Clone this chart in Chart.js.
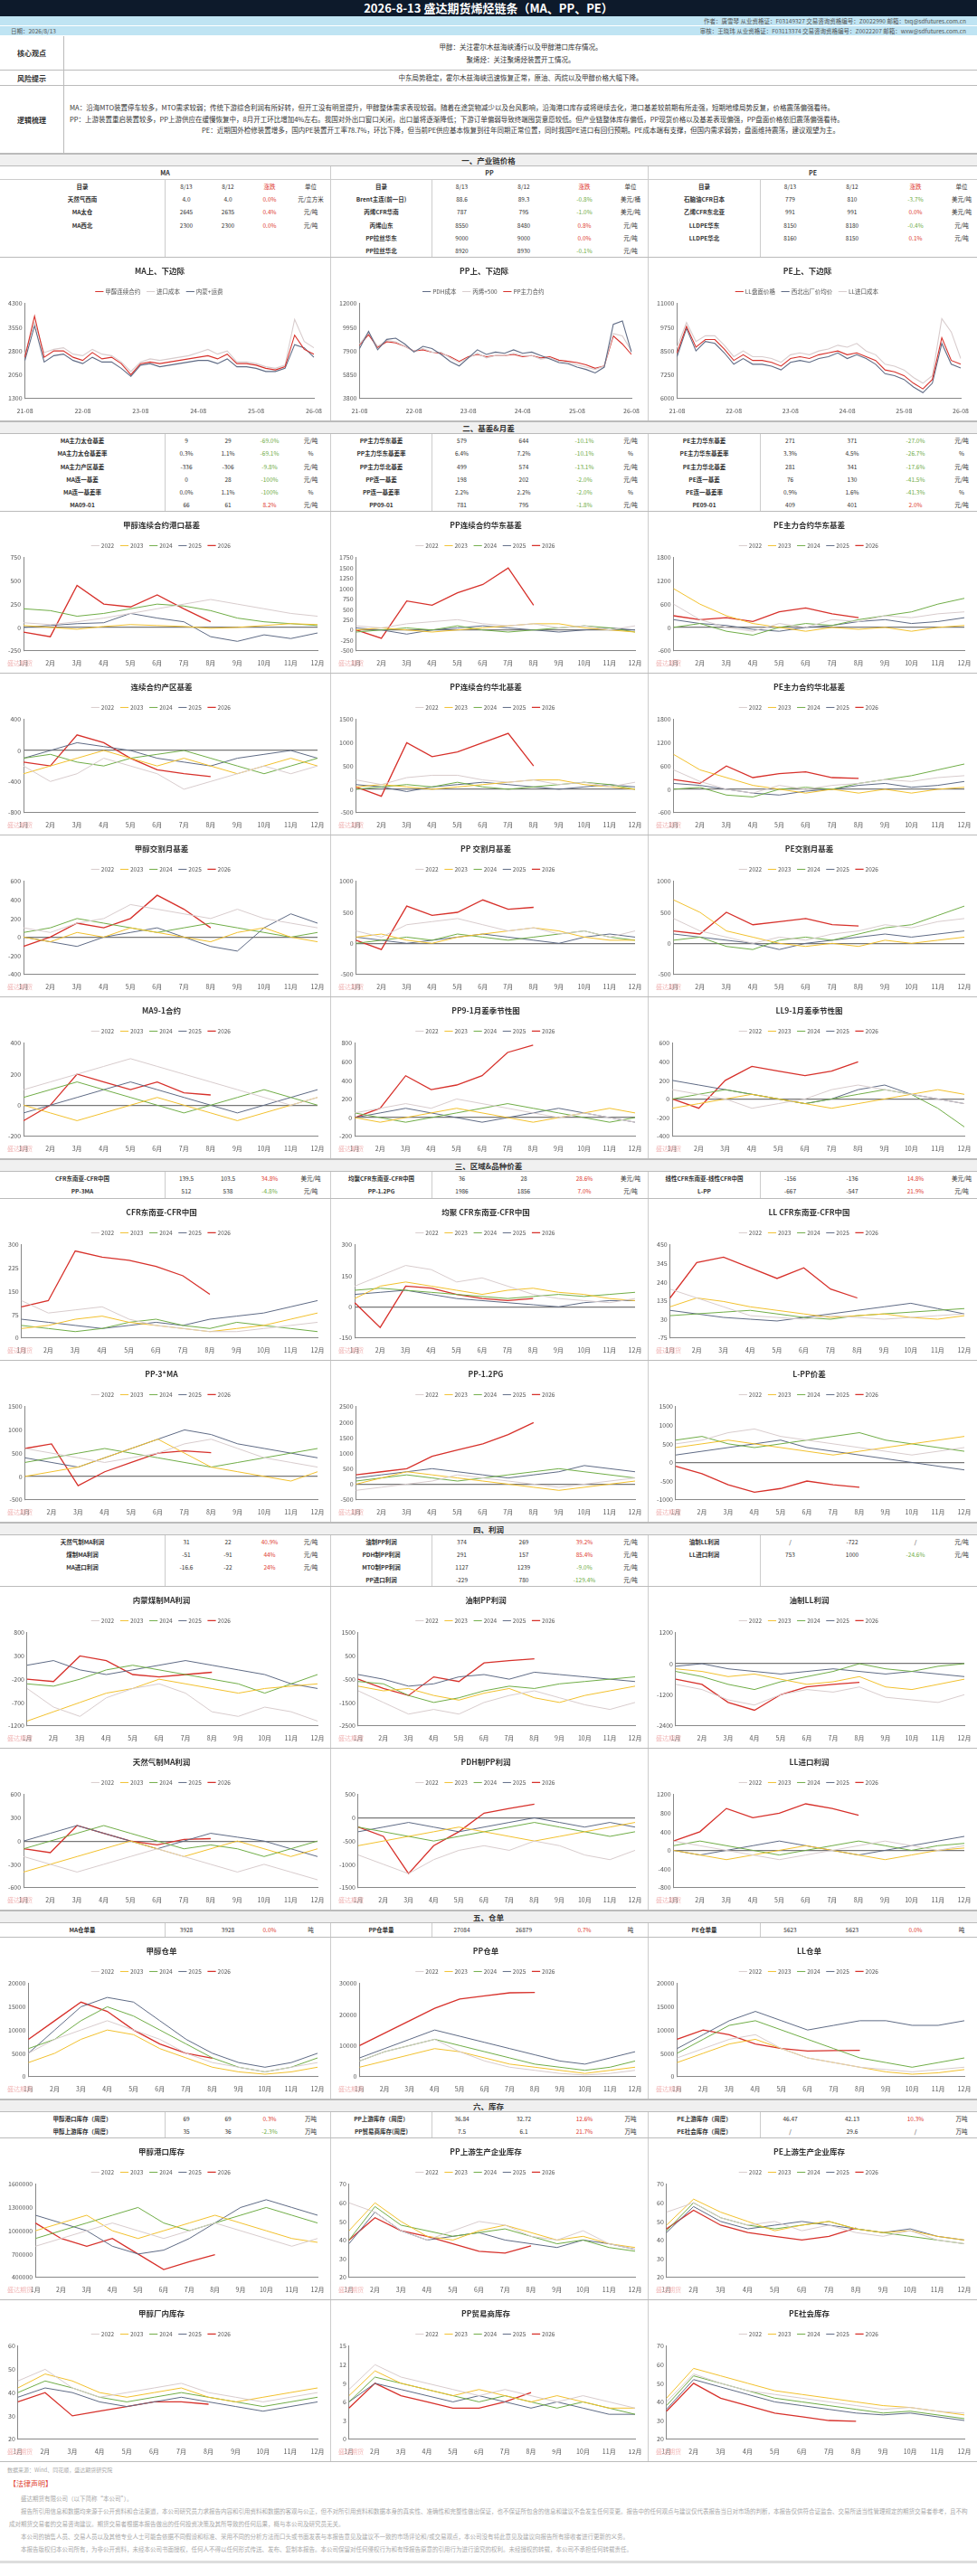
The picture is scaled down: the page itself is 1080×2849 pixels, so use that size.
<!DOCTYPE html>
<html>
<head>
<meta charset="utf-8">
<script src="https://cdn.jsdelivr.net/npm/chart.js@4.4.1/dist/chart.umd.min.js"></script>
<style>
  * { box-sizing: border-box; }
  body { margin: 0; width: 1080px; background: #fff; font-family: "Noto Sans CJK SC", "Noto Sans", sans-serif; color: #333; }
  .hdr { height: 18px; background: #0d1a2b; color: #fff; font-weight: bold; font-size: 13px; text-align: center; line-height: 18px; }
  .info { height: 10px; background: #bfe4f3; font-size: 6.5px; line-height: 10px; color: #555; padding: 0 12px; margin-bottom: 1px; display: flex; justify-content: space-between; }
  .blk { display: flex; border-bottom: 1px solid #bbb; font-size: 7.5px; }
  .blk .lab { width: 71px; border-right: 1px solid #bbb; display: flex; align-items: center; justify-content: center; font-weight: bold; font-size: 8px; }
  .blk .txt { flex: 1; display: flex; flex-direction: column; justify-content: center; padding: 2px 6px; line-height: 14px; }
  .sec { height: 14px; background: #f0f0f0; border-top: 1px solid #bbb; border-bottom: 1px solid #bbb; text-align: center; font-weight: bold; font-size: 8.5px; line-height: 13px; }
  .tbl { display: flex; border-bottom: 1px solid #bbb; }
  .tb { display: grid; font-size: 6.5px; }
  .tb > div { height: 14.2px; line-height: 14.2px; text-align: center; white-space: nowrap; }
  .tb .l { border-right: 1px solid #ccc; font-weight: bold; }
  .up { color: #e03c31; } .dn { color: #70ad47; }
  .crow { display: flex; border-bottom: 1px solid #bbb; }
  .cell { position: relative; border-right: 1px solid #ccc; }
  .cell:last-child { border-right: none; }
  .wm { position: absolute; left: 8px; bottom: 6px; font-size: 7px; color: #f1b7b7; }
  .foot { font-size: 6px; color: #aaa; padding: 4px 8px; }
  .legal { font-size: 6.5px; color: #aaa; padding: 0 10px 6px; line-height: 14px; border-bottom: 3px solid #ddd; }
  .legal p { margin: 0; text-indent: 2em; }
</style>
</head>
<body>
<div class="hdr">2026-8-13 盛达期货烯烃链条（MA、PP、PE）</div>
<div class="info"><span></span><span>作者：唐雪琴 从业资格证：F03149327 交易咨询资格编号：Z0022990 邮箱：txq@sdfutures.com.cn</span></div>
<div class="info"><span>日期：2026/8/13</span><span>审核：王晓玮 从业资格证：F03113374 交易咨询资格编号：Z0022207 邮箱：wxw@sdfutures.com.cn</span></div>
<div class="blk" style="height:38px"><div class="lab">核心观点</div><div class="txt" style="text-align:center">甲醇：关注霍尔木兹海峡通行以及甲醇港口库存情况。<br>聚烯烃：关注聚烯烃装置开工情况。</div></div>
<div class="blk" style="height:17px"><div class="lab">风险提示</div><div class="txt" style="text-align:center">中东局势稳定，霍尔木兹海峡迅速恢复正常，原油、丙烷以及甲醇价格大幅下降。</div></div>
<div class="blk" style="height:75px"><div class="lab">逻辑梳理</div><div class="txt" style="line-height:12.5px">
<div>MA：沿海MTO装置停车较多，MTO需求较弱；传统下游综合利润有所好转，但开工没有明显提升，甲醇整体需求表现较弱。随着在途货物减少以及台风影响，沿海港口库存或将继续去化，港口基差较前期有所走强，短期地缘局势反复，价格震荡偏强看待。</div>
<div>PP：上游装置重启装置较多，PP上游供应在缓慢恢复中，8月开工环比增加4%左右。我国对外出口窗口关闭，出口量将逐渐降低；下游订单偏弱导致终端囤货意愿较低。但产业链整体库存偏低，PP现货价格以及基差表现偏强，PP盘面价格依旧震荡偏强看待。</div>
<div style="text-align:center">PE：近期国外检修装置增多，国内PE装置开工率78.7%，环比下降，但当前PE供应基本恢复到往年同期正常位置，同时我国PE进口有回归预期。PE成本端有支撑，但国内需求弱势，盘面维持震荡，建议观望为主。</div>
</div></div>

<div class="sec">一、产业链价格</div>
<div id="t1" class="tbl"></div>
<div class="crow" style="height:181px"><div class="cell" style="width:366px"><canvas id="h1"></canvas></div><div class="cell" style="width:351px"><canvas id="h2"></canvas></div><div class="cell" style="width:363px"><canvas id="h3"></canvas></div></div>

<div class="sec">二、基差&amp;月差</div>
<div id="t2" class="tbl"></div>
<div id="r2"></div>
<div class="sec">三、区域&amp;品种价差</div>
<div id="t3" class="tbl"></div>
<div id="r3"></div>
<div class="sec">四、利润</div>
<div id="t4" class="tbl"></div>
<div id="r4"></div>
<div class="sec">五、仓单</div>
<div id="t5" class="tbl"></div>
<div id="r5"></div>
<div class="sec">六、库存</div>
<div id="t6" class="tbl"></div>
<div id="r6"></div>
<div class="foot">数据来源：Wind、同花顺，盛达期货研究院</div>
<div class="legal">
<div style="color:#e03c31;font-size:8px;margin-bottom:2px">【法律声明】</div>
<p>盛达期货有限公司（以下简称“本公司”）。</p>
<p>报告所引用信息和数据均来源于公开资料和合法渠道，本公司研究员力求报告内容和引用资料和数据的客观与公正，但不对所引用资料和数据本身的真实性、准确性和完整性做出保证，也不保证所包含的信息和建议不会发生任何变更。报告中的任何观点与建议仅代表报告当日对市场的判断，本报告仅供符合证监会、交易所适当性管理规定的期货交易者参考，且不构成对期货交易者的交易咨询建议。期货交易者根据本报告做出的任何投资决策及其所导致的任何后果，概与本公司及研究员无关。</p>
<p>本公司的销售人员、交易人员以及其他专业人士可能会依据不同假设和标准、采用不同的分析方法而口头或书面发表与本报告意见及建议不一致的市场评论和/或交易观点，本公司没有将此意见及建议向报告所有接收者进行更新的义务。</p>
<p>本报告版权归本公司所有，为非公开资料，未经本公司书面授权，任何人不得以任何形式传送、发布、复制本报告。本公司保留对任何侵权行为和有悖报告原意的引用行为进行追究的权利。未经授权的转载，本公司不承担任何转载责任。</p>
</div>

<script>
// ---------- table rows (label, 8/13, 8/12, change, unit) ----------
const t1Ma = [['天然气西南','4.0','4.0','0.0%','元/立方米'],['MA太仓','2645','2635','0.4%','元/吨'],['MA西北','2300','2300','0.0%','元/吨'],['','','','',''],['','','','','']];
const t1Pp = [['Brent主连(前一日)','88.6','89.3','-0.8%','美元/桶'],['丙烯CFR华南','787','795','-1.0%','美元/吨'],['丙烯山东','8550','8480','0.8%','元/吨'],['PP拉丝华东','9000','9000','0.0%','元/吨'],['PP拉丝华北','8920','8930','-0.1%','元/吨']];
const t1Pe = [['石脑油CFR日本','779','810','-3.7%','美元/吨'],['乙烯CFR东北亚','991','991','0.0%','美元/吨'],['LLDPE华东','8150','8180','-0.4%','元/吨'],['LLDPE华北','8160','8150','0.1%','元/吨'],['','','','','']];
const t2Ma = [['MA主力太仓基差','9','29','-69.0%','元/吨'],['MA主力太仓基差率','0.3%','1.1%','-69.1%','%'],['MA主力产区基差','-336','-306','-9.8%','元/吨'],['MA连一基差','0','28','-100%','元/吨'],['MA连一基差率','0.0%','1.1%','-100%','%'],['MA09-01','66','61','8.2%','元/吨']];
const t2Pp = [['PP主力华东基差','579','644','-10.1%','元/吨'],['PP主力华东基差率','6.4%','7.2%','-10.1%','%'],['PP主力华北基差','499','574','-13.1%','元/吨'],['PP连一基差','198','202','-2.0%','元/吨'],['PP连一基差率','2.2%','2.2%','-2.0%','%'],['PP09-01','781','795','-1.8%','元/吨']];
const t2Pe = [['PE主力华东基差','271','371','-27.0%','元/吨'],['PE主力华东基差率','3.3%','4.5%','-26.7%','%'],['PE主力华北基差','281','341','-17.6%','元/吨'],['PE连一基差','76','130','-41.5%','元/吨'],['PE连一基差率','0.9%','1.6%','-41.3%','%'],['PE09-01','409','401','2.0%','元/吨']];
const t3Ma = [['CFR东南亚-CFR中国','139.5','103.5','34.8%','美元/吨'],['PP-3MA','512','538','-4.8%','元/吨']];
const t3Pp = [['均聚CFR东南亚-CFR中国','36','28','28.6%','美元/吨'],['PP-1.2PG','1986','1856','7.0%','元/吨']];
const t3Pe = [['线性CFR东南亚-线性CFR中国','-156','-136','14.8%','美元/吨'],['L-PP','-667','-547','21.9%','元/吨']];
const t4Ma = [['天然气制MA利润','31','22','40.9%','元/吨'],['煤制MA利润','-51','-91','44%','元/吨'],['MA进口利润','-16.6','-22','24%','元/吨'],['','','','','']];
const t4Pp = [['油制PP利润','374','269','39.2%','元/吨'],['PDH制PP利润','291','157','85.4%','元/吨'],['MTO制PP利润','1127','1239','-9.0%','元/吨'],['PP进口利润','-229','780','-129.4%','元/吨']];
const t4Pe = [['油制LL利润','/','-722','/','元/吨'],['LL进口利润','753','1000','-24.6%','元/吨'],['','','','',''],['','','','','']];
const t5Ma = [['MA仓单量','3928','3928','0.0%','吨']];
const t5Pp = [['PP仓单量','27084','26879','0.7%','吨']];
const t5Pe = [['PE仓单量','5623','5623','0.0%','吨']];
const t6Ma = [['甲醇港口库存（周度）','69','69','0.3%','万吨'],['甲醇上游库存（周度）','35','36','-2.3%','万吨']];
const t6Pp = [['PP上游库存（周度）','36.84','32.72','12.6%','万吨'],['PP贸易商库存(周度)','7.5','6.1','21.7%','万吨']];
const t6Pe = [['PE上游库存（周度）','46.47','42.13','10.3%','万吨'],['PE社会库存（周度）','/','29.6','/','万吨']];

// ---------- history charts (section 1) ----------
const histLabels = ['21-08','21-10','21-12','22-02','22-04','22-06','22-08','22-10','22-12','23-02','23-04','23-06','23-08','23-10','23-12','24-02','24-04','24-06','24-08','24-10','24-12','25-02','25-04','25-06','25-08','25-10','25-12','26-02','26-04','26-06','26-08'];
const maFut = [2600,3900,2600,2800,2800,2600,2500,2750,2550,2600,2400,2050,2400,2450,2400,2450,2500,2550,2600,2650,2550,2700,2400,2400,2350,2250,2200,2300,3300,2850,2700];
const maImport = [2700,3700,2750,2850,2900,2700,2650,2850,2700,2650,2450,2150,2450,2550,2500,2550,2600,2650,2750,2850,2700,2800,2450,2450,2400,2300,2250,2350,3800,3100,2900];
const maInland = [2500,3600,2450,2650,2700,2500,2400,2600,2450,2450,2250,2000,2350,2400,2300,2350,2400,2450,2500,2500,2400,2550,2300,2300,2250,2150,2150,2250,3000,2900,2600];
const ppPdh = [8100,9600,8000,8900,9000,8500,7800,8300,8100,7600,7000,6600,7300,8000,7600,7800,7700,8000,7700,7800,7500,7200,6900,6800,6500,6300,6000,6500,10200,10500,7800];
const ppPropylene = [8500,9500,8300,8800,8700,8300,7900,8100,7800,7800,7300,6900,7300,7700,7300,7500,7500,7700,7500,7500,7200,7300,7000,6900,6700,6500,6300,6600,9400,9200,7900];
const ppFut = [8400,9300,8200,8700,8600,8300,7900,8000,7800,7700,7400,7000,7400,7600,7400,7500,7500,7600,7400,7500,7300,7400,7100,7000,6900,6700,6400,6600,9200,8500,7600];
const llFut = [8400,9800,8700,9100,9100,8600,8000,8300,8000,8000,7900,7700,8100,8200,8100,8300,8400,8500,8300,8400,8200,8000,7500,7400,7200,6800,6500,7000,9200,8000,7800];
const llNorthwest = [8200,9700,8500,9000,8900,8400,7800,8100,7800,7800,7700,7500,7900,8000,7900,8100,8200,8400,8100,8300,8100,7800,7300,7200,7000,6600,6300,6800,8900,7800,7600];
const llImport = [8700,10000,9000,9300,9300,8800,8200,8500,8200,8200,8100,7900,8300,8400,8300,8500,8600,8800,8700,8900,8500,8300,7800,7700,7500,7100,6800,7200,10200,9500,8100];

// ---------- seasonal charts: rows are 2022..2026 ----------
const months = ['1月','2月','3月','4月','5月','6月','7月','8月','9月','10月','11月','12月'];
const years = ['2022','2023','2024','2025','2026'];
const maPortBasis = [[50,30,60,100,150,200,250,300,250,200,150,120],[20,0,-20,10,30,20,10,-10,0,20,40,30],[200,180,120,150,200,250,230,180,100,60,40,20],[0,20,40,50,150,100,60,-100,-150,-80,-120,-60],[-50,-100,450,250,220,350,200,60]];
const ppEastBasis = [[100,50,150,200,250,150,100,150,50,100,0,100],[0,50,0,-50,0,50,100,150,150,50,0,-50],[-50,0,50,0,100,0,-50,0,50,100,50,-50],[50,0,-100,0,50,100,50,0,-50,0,50,0],[0,-200,700,600,900,1100,1500,600]];
const peEastBasis = [[600,200,0,-100,100,0,200,150,300,250,350,400],[1000,600,300,100,0,-100,0,-50,0,-100,0,50],[0,100,-100,-200,0,100,50,200,300,400,600,750],[200,100,50,-50,-100,0,50,150,200,100,150,250],[300,200,250,150,400,500,350,250]];
const maAreaBasis = [[-200,-400,-300,-100,-200,-300,-500,-400,-300,-200,-300,-200],[-300,-200,-100,0,-100,-200,-100,-200,-300,-200,-100,-200],[-100,-50,-150,-200,-100,-50,0,-100,-200,-300,-200,-100],[-100,0,100,50,0,-100,-150,-200,-100,-50,0,-100],[-150,-200,200,100,-100,-250,-300,-336]];
const ppNorthBasis = [[200,100,250,300,300,200,150,200,100,150,50,150],[50,100,50,0,50,100,150,200,200,100,50,0],[0,50,100,50,150,50,0,50,100,150,100,0],[100,50,-50,50,100,150,100,50,0,50,100,50],[50,-150,1000,700,800,1000,1200,500]];
const peNorthBasis = [[500,200,0,-100,100,0,100,150,250,200,300,350],[900,500,300,100,0,-100,0,-100,0,-100,0,50],[0,50,-150,-200,0,50,0,150,250,350,500,650],[150,100,0,-100,-150,-50,0,100,150,50,100,200],[250,150,600,300,400,450,300,280]];
const maDelivBasis = [[100,50,150,200,350,300,250,200,300,200,150,100],[0,-50,50,0,100,50,0,-50,50,100,0,-50],[50,100,200,150,100,50,100,150,100,50,0,50],[0,-50,-100,0,50,100,0,-100,-150,100,250,150],[-100,0,150,100,200,450,300,100]];
const ppDelivBasis = [[200,100,300,350,400,300,200,250,150,200,100,200],[100,150,50,0,100,150,200,250,200,100,50,50],[0,50,100,50,150,100,50,100,150,200,100,50],[100,50,0,50,100,150,100,50,0,100,150,100],[50,-100,600,450,500,700,550,580]];
const peDelivBasis = [[400,200,100,0,100,50,150,200,300,250,350,400],[700,500,200,100,0,-50,0,-50,50,0,50,100],[50,100,-50,-100,50,100,50,150,250,300,450,600],[150,100,50,0,-100,0,50,100,150,100,150,200],[200,150,500,300,350,400,300,280]];
const ma91 = [[100,150,200,250,300,250,200,150,100,50,0,50],[0,-50,-100,-50,0,50,0,-50,-100,-50,0,50],[50,100,150,100,50,0,-50,0,50,100,50,0],[-50,0,50,100,150,100,50,0,-50,0,50,100],[-100,0,200,150,100,150,80,66]];
const pp91 = [[50,100,150,100,200,150,100,50,0,50,0,-50],[0,-50,0,50,100,50,0,-50,0,50,100,50],[50,0,-50,0,50,100,150,100,50,0,-50,0],[0,50,100,50,0,-50,0,50,100,50,0,-50],[0,100,450,300,350,450,700,780]];
const ll91 = [[100,50,0,-100,-50,0,100,150,100,50,0,-50],[-100,-50,0,50,0,-50,-100,-50,0,50,100,50],[0,50,100,50,0,-50,0,50,100,50,-100,-300],[200,150,100,50,0,-50,0,100,150,50,0,-50],[0,-100,200,350,300,250,300,400]];
const cfrMa = [[120,80,90,100,60,40,30,20,20,30,40,50],[30,40,60,70,50,40,30,20,30,40,60,80],[40,30,20,30,50,60,40,30,50,40,30,20],[60,50,40,30,40,50,40,60,70,80,100,120],[100,120,280,260,250,230,200,140]];
const cfrHomo = [[100,150,200,180,120,140,100,60,40,30,20,40],[40,100,120,100,80,60,80,90,70,60,40,30],[80,90,80,70,60,50,40,50,60,50,60,70],[60,70,80,60,40,30,20,10,0,20,30,30],[20,-100,100,90,60,40,30,40]];
const cfrLl = [[200,150,100,50,40,30,50,40,30,40,50,60],[100,150,130,100,80,60,40,50,60,40,30,50],[50,60,70,80,60,40,30,50,60,70,80,90],[80,60,40,30,20,40,60,80,100,120,90,60],[150,350,380,320,260,320,200,150]];
const pp3ma = [[600,500,400,300,400,500,700,800,600,400,300,200],[0,100,200,400,600,800,500,200,100,0,-100,100],[300,400,500,600,500,400,300,200,300,400,500,600],[400,300,200,400,600,800,1000,900,700,600,500,400],[600,700,-200,100,300,500,550,512]];
const pp12pg = [[-200,-100,0,100,300,200,100,0,-100,0,100,200],[0,200,400,300,200,100,0,-100,-200,-100,0,100],[100,200,300,200,100,200,300,400,500,400,300,200],[200,300,400,500,400,300,200,300,400,600,500,400],[300,400,500,900,1100,1300,1600,1986]];
const lpp = [[500,600,800,900,700,600,500,400,300,200,300,400],[400,500,600,500,400,300,200,300,400,500,600,700],[600,700,500,400,500,600,700,800,600,500,400,300],[200,300,400,500,600,400,300,200,100,0,-100,-200],[-100,-300,-600,-800,-700,-500,-600,-667]];
const maCoalProfit = [[-400,-800,-1000,-600,-400,-300,-500,-900,-1000,-800,-900,-1100],[-1100,-900,-700,-500,-400,-200,-300,-400,-500,-400,-350,-300],[-300,-350,-200,0,100,0,-100,-200,-300,-500,-300,-100],[100,200,0,-100,0,100,200,100,0,-100,-300,-400],[-200,-250,300,200,-100,-150,-100,-51]];
const ppOilProfit = [[-1000,-1500,-2000,-1800,-2000,-1500,-1200,-1000,-1300,-1600,-1800,-1500],[-800,-1000,-900,-1200,-1400,-1100,-900,-1300,-1500,-1200,-1000,-800],[-600,-700,-1200,-1500,-1300,-1000,-800,-900,-700,-600,-500,-400],[-300,-500,-800,-700,-400,-300,-500,-200,-300,-400,-500,-600],[-500,-900,-1200,-400,-600,200,300,374]];
const llOilProfit = [[-800,-1000,-1400,-1600,-1200,-1000,-1100,-900,-1300,-1400,-1500,-1200],[-200,-300,-500,-400,-600,-800,-700,-500,-900,-1000,-800,-600],[-300,-500,-800,-1000,-700,-500,-300,0,-200,-300,-100,0],[-100,0,-200,-300,-400,-300,-200,-300,-400,-300,-400,-500],[-600,-800,-1500,-1800,-1200,-900,-800,-722]];
const maGasProfit = [[-200,-300,-400,-300,-200,-100,-200,-300,-400,-300,-400,-500],[-400,-300,-200,-100,0,-100,-200,-100,0,-100,-200,-100],[-100,0,100,200,100,0,-100,-50,-100,-200,-100,0],[0,100,200,100,0,-100,0,100,50,0,-100,-200],[-100,-150,200,100,0,-50,20,31]];
const ppPdhProfit = [[-800,-1000,-1200,-900,-700,-600,-700,-500,-600,-800,-900,-700],[-600,-500,-400,-300,-200,-300,-400,-500,-400,-300,-200,-100],[-200,-300,-400,-500,-400,-300,-200,-100,-200,-300,-400,-300],[-300,-200,-100,-200,-300,-200,-100,0,-100,-200,-100,-200],[-200,-400,-1200,-600,-300,100,200,291]];
const llImportProfit = [[200,100,0,-100,-200,-100,0,100,200,100,0,100],[0,-100,-200,-100,0,100,0,-100,-200,-100,0,50],[100,200,100,0,-100,0,100,200,100,0,100,150],[0,-100,0,100,200,100,0,-100,0,100,200,300],[200,400,900,700,800,1000,900,753]];
const maWarrant = [[5000,8000,10000,12000,10000,8000,5000,3000,2000,1000,2000,3000],[3000,5000,8000,10000,9000,6000,4000,2000,1000,500,1000,2000],[6000,8000,12000,15000,13000,10000,7000,4000,2000,1000,2000,4000],[5000,10000,15000,17000,16000,12000,8000,5000,3000,2000,3000,5000],[8000,12000,16000,14000,10000,7000,5000,3928]];
const ppWarrant = [[5000,8000,10000,12000,8000,5000,3000,2000,1000,500,1000,2000],[3000,5000,7000,9000,8000,6000,4000,3000,2000,1000,2000,3000],[5000,8000,10000,12000,10000,8000,6000,4000,3000,2000,3000,5000],[6000,9000,12000,15000,13000,11000,9000,7000,5000,4000,6000,8000],[10000,14000,18000,22000,25000,26000,27000,27084]];
const llWarrant = [[4000,6000,8000,9000,6000,4000,3000,2000,1500,1000,1500,2000],[3000,5000,7000,8000,6000,4000,3000,2000,1000,500,800,1500],[5000,8000,11000,12000,10000,8000,6000,4000,3000,2000,3000,4000],[6000,9000,12000,14000,12000,10000,11000,12000,12000,11000,11000,12000],[8000,10000,9000,7000,6000,5500,5600,5623]];
const maPortInv = [[800000,900000,1000000,1100000,1000000,900000,1000000,1100000,1000000,900000,800000,900000],[1000000,1100000,1200000,1000000,900000,1000000,1100000,1200000,1100000,1000000,900000,850000],[900000,1000000,1100000,1200000,1300000,1100000,1000000,1100000,1200000,1300000,1200000,1100000],[1200000,1100000,1000000,800000,700000,750000,900000,1100000,1300000,1400000,1300000,1200000],[1100000,900000,800000,900000,700000,500000,600000,690000]];
const ppUpInv = [[60,55,45,40,45,50,48,42,40,45,38,35],[45,60,50,42,40,45,48,44,40,42,38,36],[40,58,48,45,42,44,46,42,38,40,36,34],[38,55,45,40,42,44,40,38,36,40,38,35],[40,52,45,42,38,34,33,36.84]];
const peUpInv = [[55,60,52,48,50,45,48,44,42,45,40,38],[48,62,55,50,45,48,50,46,44,45,42,40],[45,60,52,48,46,48,50,46,44,42,40,38],[44,58,50,46,48,50,48,46,44,46,42,40],[46,56,48,44,42,40,42,46.47]];
const maPlantInv = [[45,50,42,38,40,42,44,40,38,36,38,40],[42,48,45,40,38,40,42,38,36,38,40,42],[40,45,42,38,36,38,40,38,36,34,36,38],[38,42,40,36,34,36,38,36,34,32,34,36],[36,40,30,32,34,36,36,35]];
const ppTraderInv = [[8,12,10,9,8,7,8,7,6,7,6,5],[7,11,9,8,7,8,7,6,7,6,5,5],[6,10,9,8,7,6,7,6,5,6,5,4],[6,9,8,7,6,7,6,5,6,5,4,4],[5,9,7,6,5,5,6,7.5]];
const peSocialInv = [[40,55,50,46,44,42,40,38,36,37,35,34],[42,58,54,50,46,44,42,40,38,37,35,33],[38,54,50,46,42,40,38,36,34,35,33,31],[36,52,48,44,40,38,36,34,33,34,32,30],[35,50,42,38,34,32,30,29.6]];

const yearColors = ['#d8cccd','#f2c12e','#70ad47','#5f6b85','#d7312b'];
const widths = [366, 351, 363];

Chart.defaults.font.family = '"Noto Sans CJK SC", sans-serif';
Chart.defaults.font.size = 7;
Chart.defaults.color = '#555';
Chart.defaults.animation = false;

function buildTable(id, blocks, cols) {
  const el = document.getElementById(id);
  blocks.forEach((rows, i) => {
    const tb = document.createElement('div');
    tb.className = 'tb';
    tb.style.width = widths[i] + 'px';
    tb.style.gridTemplateColumns = cols[i];
    if (i < 2) tb.style.borderRight = '1px solid #ccc';
    rows.forEach(r => r.forEach((v, j) => {
      const c = document.createElement('div');
      c.textContent = v;
      if (j === 0) c.className = 'l';
      if (j === 3 && v && v !== '/') c.className = v.startsWith('-') ? 'dn' : 'up';
      tb.appendChild(c);
    }));
    el.appendChild(tb);
  });
}
const colsStd = ['183px 46px 46px 46px 45px', '112px 65px 72px 62px 40px', '124px 65px 72px 68px 34px'];

function addHeaderRows() {
  const el = document.getElementById('t1');
  const wrap = document.createElement('div');
  el.style.flexDirection = 'column';
  const grp = document.createElement('div');
  grp.style.display = 'flex';
  ['MA', 'PP', 'PE'].forEach((n, i) => {
    const d = document.createElement('div');
    d.style.cssText = `width:${widths[i]}px;height:15px;line-height:15px;text-align:center;font-size:7px;font-weight:bold;border-bottom:1px solid #ccc;${i < 2 ? 'border-right:1px solid #ccc;' : ''}`;
    d.textContent = n;
    grp.appendChild(d);
  });
  el.appendChild(grp);
  const body = document.createElement('div');
  body.id = 't1b';
  body.style.display = 'flex';
  el.appendChild(body);
  const head = ['目录', '8/13', '8/12', '涨跌', '单位'];
  buildTable('t1b', [[head].concat(t1Ma), [head].concat(t1Pp), [head].concat(t1Pe)], colsStd);
}
addHeaderRows();
buildTable('t2', [t2Ma, t2Pp, t2Pe], colsStd);
buildTable('t3', [t3Ma, t3Pp, t3Pe], colsStd);
buildTable('t4', [t4Ma, t4Pp, t4Pe], colsStd);
buildTable('t5', [t5Ma, t5Pp, t5Pe], colsStd);
buildTable('t6', [t6Ma, t6Pp, t6Pe], colsStd);

function axisOpts(min, max, step, fmt) {
  return {
    x: { grid: { display: false }, border: { color: '#888' }, ticks: { maxRotation: 0, autoSkip: false, padding: 2 } },
    y: {
      min: min, max: max,
      ticks: { stepSize: step, padding: 3, callback: fmt || (v => v) },
      grid: { drawTicks: false, color: ctx => (ctx.tick.value === 0 && min < 0 ? '#777' : 'transparent'), lineWidth: 1.2 },
      border: { color: '#888' }
    }
  };
}
function legendOpts() {
  return { display: true, position: 'top', labels: { usePointStyle: true, pointStyle: 'line', boxWidth: 14, padding: 8, font: { size: 6.5 } } };
}
function titleOpts(t) {
  return { display: true, text: t, color: '#333', font: { size: 8.5, weight: 'bold' }, padding: { top: 10, bottom: 6 } };
}

function seasonal(id, title, data, min, max, step, fmt) {
  new Chart(document.getElementById(id), {
    type: 'line',
    data: {
      labels: months,
      datasets: years.map((y, i) => ({
        label: y, data: data[i], borderColor: yearColors[i], backgroundColor: yearColors[i],
        borderWidth: i === 4 ? 1.3 : 1, pointRadius: 0, tension: 0
      }))
    },
    options: {
      responsive: true, maintainAspectRatio: false,
      layout: { padding: { left: 6, right: 14, bottom: 4 } },
      plugins: { title: titleOpts(title), legend: legendOpts() },
      scales: axisOpts(min, max, step, fmt)
    }
  });
}

function history(id, title, names, colors, series, min, max, step) {
  new Chart(document.getElementById(id), {
    type: 'line',
    data: {
      labels: histLabels,
      datasets: names.map((n, i) => ({
        label: n, data: series[i], borderColor: colors[i], backgroundColor: colors[i],
        borderWidth: 1.1, pointRadius: 0, tension: 0
      }))
    },
    options: {
      responsive: true, maintainAspectRatio: false,
      layout: { padding: { left: 6, right: 18, bottom: 4 } },
      plugins: { title: titleOpts(title), legend: legendOpts() },
      scales: (() => {
        const s = axisOpts(min, max, step);
        s.x.ticks.callback = function (v) { const l = this.getLabelForValue(v); return l.endsWith('-08') ? l : ''; };
        return s;
      })()
    }
  });
}

history('h1', 'MA上、下边际', ['甲醇连续合约', '进口成本', '内蒙+运费'], ['#d7312b', '#d8cccd', '#5f6b85'], [maFut, maImport, maInland], 1300, 4300, 750);
history('h2', 'PP上、下边际', ['PDH成本', '丙烯+500', 'PP主力合约'], ['#5f6b85', '#d8cccd', '#d7312b'], [ppPdh, ppPropylene, ppFut], 3800, 12000, 2050);
history('h3', 'PE上、下边际', ['LL盘面价格', '西北出厂价均价', 'LL进口成本'], ['#d7312b', '#5f6b85', '#d8cccd'], [llFut, llNorthwest, llImport], 6000, 11000, 1250);

let cid = 0;
function seasonRow(target, specs) {
  const row = document.createElement('div');
  row.className = 'crow';
  row.style.height = '179px';
  specs.forEach((s, i) => {
    const cell = document.createElement('div');
    cell.className = 'cell';
    cell.style.width = widths[i] + 'px';
    const cv = document.createElement('canvas');
    cv.id = 's' + (cid++);
    cell.appendChild(cv);
    const wm = document.createElement('div');
    wm.className = 'wm';
    wm.textContent = '盛达期货';
    cell.appendChild(wm);
    row.appendChild(cell);
    s.unshift(cv.id);
  });
  document.getElementById(target).appendChild(row);
  specs.forEach(s => seasonal(...s));
}
const fmtWan = v => v;

seasonRow('r2', [['甲醇连续合约港口基差', maPortBasis, -250, 750, 250], ['PP连续合约华东基差', ppEastBasis, -500, 1750, 250], ['PE主力合约华东基差', peEastBasis, -600, 1800, 600]]);
seasonRow('r2', [['连续合约产区基差', maAreaBasis, -800, 400, 400], ['PP连续合约华北基差', ppNorthBasis, -500, 1500, 500], ['PE主力合约华北基差', peNorthBasis, -600, 1800, 600]]);
seasonRow('r2', [['甲醇交割月基差', maDelivBasis, -400, 600, 200], ['PP 交割月基差', ppDelivBasis, -500, 1000, 500], ['PE交割月基差', peDelivBasis, -500, 1000, 500]]);
seasonRow('r2', [['MA9-1合约', ma91, -200, 400, 200], ['PP9-1月差季节性图', pp91, -200, 800, 200], ['LL9-1月差季节性图', ll91, -400, 600, 200]]);
seasonRow('r3', [['CFR东南亚-CFR中国', cfrMa, 0, 300, 75], ['均聚 CFR东南亚-CFR中国', cfrHomo, -150, 300, 150], ['LL CFR东南亚-CFR中国', cfrLl, -75, 450, 105]]);
seasonRow('r3', [['PP-3*MA', pp3ma, -500, 1500, 500], ['PP-1.2PG', pp12pg, -500, 2500, 500], ['L-PP价差', lpp, -1000, 1500, 500]]);
seasonRow('r4', [['内蒙煤制MA利润', maCoalProfit, -1200, 800, 500], ['油制PP利润', ppOilProfit, -2500, 1500, 1000], ['油制LL利润', llOilProfit, -2400, 1200, 1200]]);
seasonRow('r4', [['天然气制MA利润', maGasProfit, -600, 600, 300], ['PDH制PP利润', ppPdhProfit, -1500, 500, 500], ['LL进口利润', llImportProfit, -800, 1200, 400]]);
seasonRow('r5', [['甲醇仓单', maWarrant, 0, 20000, 5000], ['PP仓单', ppWarrant, 0, 30000, 10000], ['LL仓单', llWarrant, 0, 20000, 5000]]);
seasonRow('r6', [['甲醇港口库存', maPortInv, 400000, 1600000, 300000], ['PP上游生产企业库存', ppUpInv, 20, 70, 10], ['PE上游生产企业库存', peUpInv, 20, 70, 10]]);
seasonRow('r6', [['甲醇厂内库存', maPlantInv, 20, 60, 10], ['PP贸易商库存', ppTraderInv, 0, 15, 3], ['PE社会库存', peSocialInv, 20, 70, 10]]);
</script>
</body>
</html>
